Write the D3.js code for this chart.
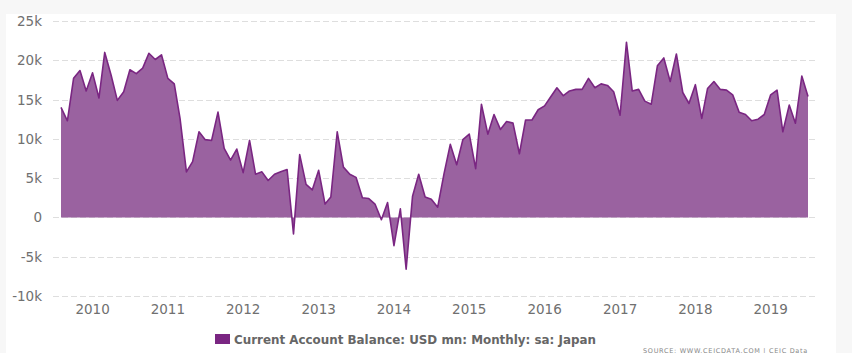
<!DOCTYPE html>
<html>
<head>
<meta charset="utf-8">
<script src="https://cdn.jsdelivr.net/npm/d3@7"></script>
<style>
  body { margin: 0; background: #f7f7f7; }
  svg { display: block; }
</style>
</head>
<body>
<div id="graph"></div>
<script>
// monthly values, Aug 2009 .. Jul 2019 (USD mn, seasonally adjusted)
var startMonth = new Date(2009, 7, 1)
var values = [
  14000, 12300, 17700, 18700, 16100, 18400, 15200, 21000, 18100, 14900, 16000, 18800,
  18300, 19000, 20900, 20100, 20700, 17700, 17000, 12600, 5800, 7100, 10900, 9900,
  9800, 13400, 8800, 7300, 8700, 5700, 9800, 5500, 5800, 4700, 5500, 5800,
  6100, -2100, 8000, 4200, 3500, 6000, 1700, 2600, 10900, 6400, 5500, 5100,
  2500, 2400, 1700, -300, 1900, -3600, 1100, -6600, 2700, 5500, 2600, 2300,
  1300, 5600, 9300, 6700, 9900, 10600, 6200, 14400, 10600, 13100, 11200, 12200,
  12000, 8100, 12400, 12400, 13700, 14200, 15400, 16500, 15500, 16100, 16300, 16300,
  17700, 16500, 17000, 16800, 16000, 13000, 22300, 16100, 16300, 14800, 14400, 19300,
  20300, 17300, 20800, 15900, 14500, 16900, 12600, 16400, 17300, 16300, 16200, 15600,
  13400, 13100, 12300, 12500, 13100, 15600, 16200, 10900, 14300, 12000, 18000, 15400
]
var yTicks = [-10000, -5000, 0, 5000, 10000, 15000, 20000, 25000]
var years = [2010, 2011, 2012, 2013, 2014, 2015, 2016, 2017, 2018, 2019]
var seriesName = "Current Account Balance: USD mn: Monthly: sa: Japan"

var data = values.map(function(v, i) {
  return { date: new Date(startMonth.getFullYear(), startMonth.getMonth() + i, 1), value: v }
})

var W = 852, H = 353
var plotLeft = 53, plotRight = 816

var svg = d3.select("#graph")
.append("svg")
  .attr("width", W)
  .attr("height", H)

// white panel
svg.append("rect")
  .attr("x", 6).attr("y", 14)
  .attr("width", 830).attr("height", H - 14)
  .attr("fill", "#fff")

var x = d3.scaleTime()
  .domain([data[0].date, data[data.length - 1].date])
  .range([61, 808])

var y = d3.scaleLinear()
  .domain([-10000, 25000])
  .range([296, 21])

// grid lines
svg.selectAll(".grid")
.data(yTicks)
.enter()
.append("line")
  .attr("x1", plotLeft)
  .attr("x2", plotRight)
  .attr("y1", function(d){ return Math.round(y(d)) + 0.5 })
  .attr("y2", function(d){ return Math.round(y(d)) + 0.5 })
  .attr("stroke", "#dedede")
  .attr("stroke-dasharray", "6,3")

// y labels
var fmt = function(d){ return d === 0 ? "0" : (d / 1000) + "k" }
svg.selectAll(".ylab")
.data(yTicks)
.enter()
.append("text")
  .attr("x", 42)
  .attr("y", function(d){ return y(d) + 5 })
  .attr("text-anchor", "end")
  .attr("font-family", "DejaVu Sans")
  .attr("font-size", "13.5px")
  .attr("fill", "#707070")
  .text(fmt)

// x labels
svg.selectAll(".xlab")
.data(years)
.enter()
.append("text")
  .attr("x", function(d){ return x(new Date(d, 0, 1)) })
  .attr("y", 314)
  .attr("text-anchor", "middle")
  .attr("font-family", "DejaVu Sans")
  .attr("font-size", "13.5px")
  .attr("fill", "#707070")
  .text(function(d){ return d })

// area
var area = d3.area()
  .x(function(d){ return x(d.date) })
  .y0(y(0))
  .y1(function(d){ return y(d.value) })

svg.append("path")
  .datum(data)
  .attr("d", area)
  .attr("fill", "#9a62a0")

var line = d3.line()
  .x(function(d){ return x(d.date) })
  .y(function(d){ return y(d.value) })

svg.append("path")
  .datum(data)
  .attr("d", line)
  .attr("fill", "none")
  .attr("stroke", "#7a2682")
  .attr("stroke-width", 1.6)
  .attr("stroke-linejoin", "round")

// legend
svg.append("rect")
  .attr("x", 215).attr("y", 334)
  .attr("width", 15).attr("height", 10)
  .attr("fill", "#7a2682")

svg.append("text")
  .attr("x", 234)
  .attr("y", 343.5)
  .attr("font-family", "DejaVu Sans")
  .attr("font-weight", "bold")
  .attr("font-size", "11.9px")
  .attr("fill", "#666")
  .text(seriesName)

// source line at the bottom edge
svg.append("text")
  .attr("x", 643)
  .attr("y", 352.5)
  .attr("font-family", "DejaVu Sans")
  .attr("font-size", "6.5px")
  .attr("letter-spacing", "0.7px")
  .attr("fill", "#888")
  .text("SOURCE: WWW.CEICDATA.COM | CEIC Data")
</script>
</body>
</html>
